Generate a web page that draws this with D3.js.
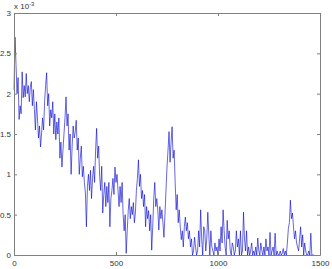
<!DOCTYPE html>
<html>
<head>
<meta charset="utf-8">
<script src="https://cdn.jsdelivr.net/npm/d3@7"></script>
<style>
  html, body { margin: 0; padding: 0; background: #ffffff; }
  svg { display: block; }
</style>
</head>
<body>
<svg id="chart" width="332" height="269"></svg>
<script>
// x step between samples
const xStep = 5;
const seriesValues = [
  2.05, 2.7, 2.35, 2.0, 2.2, 1.68, 1.85, 1.75, 2.27, 1.95,
  2.1, 1.96, 2.25, 2.0, 2.1, 1.9, 2.08, 2.15, 1.85, 2.05,
  1.8, 1.55, 1.9, 1.7, 1.45, 1.6, 1.34, 1.5, 1.7, 1.55,
  1.9, 2.1, 2.26, 1.85, 2.0, 1.6, 1.8, 1.7, 1.9, 1.5,
  1.75, 1.43, 1.65, 1.5, 1.7, 1.2, 1.4, 1.09, 1.3, 1.5,
  1.7, 1.96, 1.6, 1.75, 1.3, 1.5, 1.0, 1.35, 1.6, 1.45,
  1.52, 1.67, 1.3, 1.45, 1.0, 1.2, 1.35, 0.97, 1.1, 0.9,
  0.77, 0.35, 0.85, 1.0, 0.8, 1.05, 0.7, 0.95, 1.1, 0.9,
  1.3, 1.57, 1.2, 1.35, 0.97, 0.8, 1.1, 0.52, 0.75, 0.9,
  0.6, 0.85, 0.65, 0.9, 0.35, 0.7, 0.8, 0.95, 0.75, 1.09,
  0.9, 1.0, 0.8, 0.6, 0.85, 0.65, 0.9, 0.5, 0.3, 0.5,
  0.02, 0.3, 0.55, 0.7, 0.45, 0.6, 0.5, 0.65, 0.4, 0.52,
  0.8, 0.95, 1.18, 0.85, 1.0, 0.7, 0.8, 0.6, 0.75, 0.35,
  0.6, 0.45, 0.55, 0.3, 0.5, 0.06, 0.35, 0.7, 0.9, 0.6,
  0.7, 0.55, 0.31, 0.6, 0.45, 0.56, 0.4, 0.22, 0.5, 0.8,
  1.09, 1.3, 1.53, 1.15, 1.4, 1.59, 1.2, 1.3, 0.9, 0.56,
  0.75, 0.4, 0.56, 0.35, 0.19, 0.3, 0.1, 0.35, 0.47, 0.3,
  0.4, 0.2, 0.3, 0.1, 0.2, 0.0, 0.05, 0.22, 0.1, 0.0,
  0.05, 0.3, 0.1, 0.56, 0.2, 0.0, 0.35, 0.3, 0.05, 0.2,
  0.53, 0.25, 0.0, 0.3, 0.1, 0.05, 0.0, 0.15, 0.05, 0.1,
  0.0, 0.2, 0.05, 0.35, 0.15, 0.56, 0.3, 0.1, 0.0, 0.43,
  0.2, 0.3, 0.05, 0.0, 0.15, 0.1, 0.0, 0.05, 0.3, 0.1,
  0.2, 0.0, 0.3, 0.0, 0.05, 0.53, 0.2, 0.05, 0.3, 0.0,
  0.1, 0.0, 0.05, 0.15, 0.0, 0.05, 0.0, 0.1, 0.0, 0.21,
  0.05, 0.0, 0.15, 0.05, 0.0, 0.1, 0.0, 0.2, 0.05, 0.1,
  0.0, 0.28, 0.0, 0.05, 0.1, 0.0, 0.27, 0.0, 0.05, 0.0,
  0.0, 0.05, 0.0, 0.02, 0.08, 0.0, 0.05, 0.0, 0.15, 0.33,
  0.4, 0.68, 0.45, 0.52, 0.35, 0.2, 0.3, 0.15, 0.1, 0.05,
  0.2, 0.35, 0.1, 0.25, 0.0, 0.15, 0.05, 0.0, 0.0, 0.05,
  0.0, 0.27, 0.0, 0.0, 0.0
];
const xTicks = [0, 500, 1000, 1500];
const yTicks = [0, 0.5, 1, 1.5, 2, 2.5, 3];
const yTickLabels = ["0", "0.5", "1", "1.5", "2", "2.5", "3"];
const exponentLabel = "-3";

const svg = d3.select("#chart");
const mLeft = 14, mRight = 320, mTop = 13, mBottom = 255;
const x = d3.scaleLinear().domain([0, 1500]).range([mLeft, mRight]);
const y = d3.scaleLinear().domain([0, 3]).range([mBottom, mTop]);

const axisColor = "#808080";
const textColor = "#333333";
const font = "'Liberation Sans', Arial, sans-serif";

// data line
const data = seriesValues.map((v, i) => ({ x: i * xStep, y: v }));
svg.append("path")
  .datum(data)
  .attr("fill", "none")
  .attr("stroke", "#0000cc")
  .attr("stroke-width", 0.6)
  .attr("stroke-linejoin", "round")
  .attr("d", d3.line().x(d => x(d.x)).y(d => y(d.y)));

// axes (box with inward ticks)
function styleAxis(g) {
  g.selectAll("path").attr("stroke", axisColor).attr("stroke-width", 1);
  g.selectAll("line").attr("stroke", axisColor);
  g.selectAll("text").attr("fill", textColor).attr("font-family", font).attr("font-size", "8px");
}
svg.append("g").attr("transform", `translate(0,${mBottom})`)
  .call(d3.axisBottom(x).tickValues(xTicks).tickSize(-3).tickSizeOuter(0).tickPadding(5).tickFormat(d3.format("d")))
  .call(styleAxis);
svg.append("g").attr("transform", `translate(0,${mTop})`)
  .call(d3.axisTop(x).tickValues(xTicks).tickSize(-3).tickSizeOuter(0).tickFormat(""))
  .call(styleAxis);
svg.append("g").attr("transform", `translate(${mLeft},0)`)
  .call(d3.axisLeft(y).tickValues(yTicks).tickSize(-3).tickSizeOuter(0).tickPadding(3)
    .tickFormat((d, i) => yTickLabels[i]))
  .call(styleAxis);
svg.append("g").attr("transform", `translate(${mRight},0)`)
  .call(d3.axisRight(y).tickValues(yTicks).tickSize(-3).tickSizeOuter(0).tickFormat(""))
  .call(styleAxis);

// exponent label
const ex = svg.append("text")
  .attr("x", mLeft)
  .attr("y", 9)
  .attr("fill", textColor)
  .attr("font-family", font)
  .attr("font-size", "8px");
ex.append("tspan").text("x 10");
ex.append("tspan").attr("dy", -3).attr("font-size", "6px").text(exponentLabel);
</script>
</body>
</html>
